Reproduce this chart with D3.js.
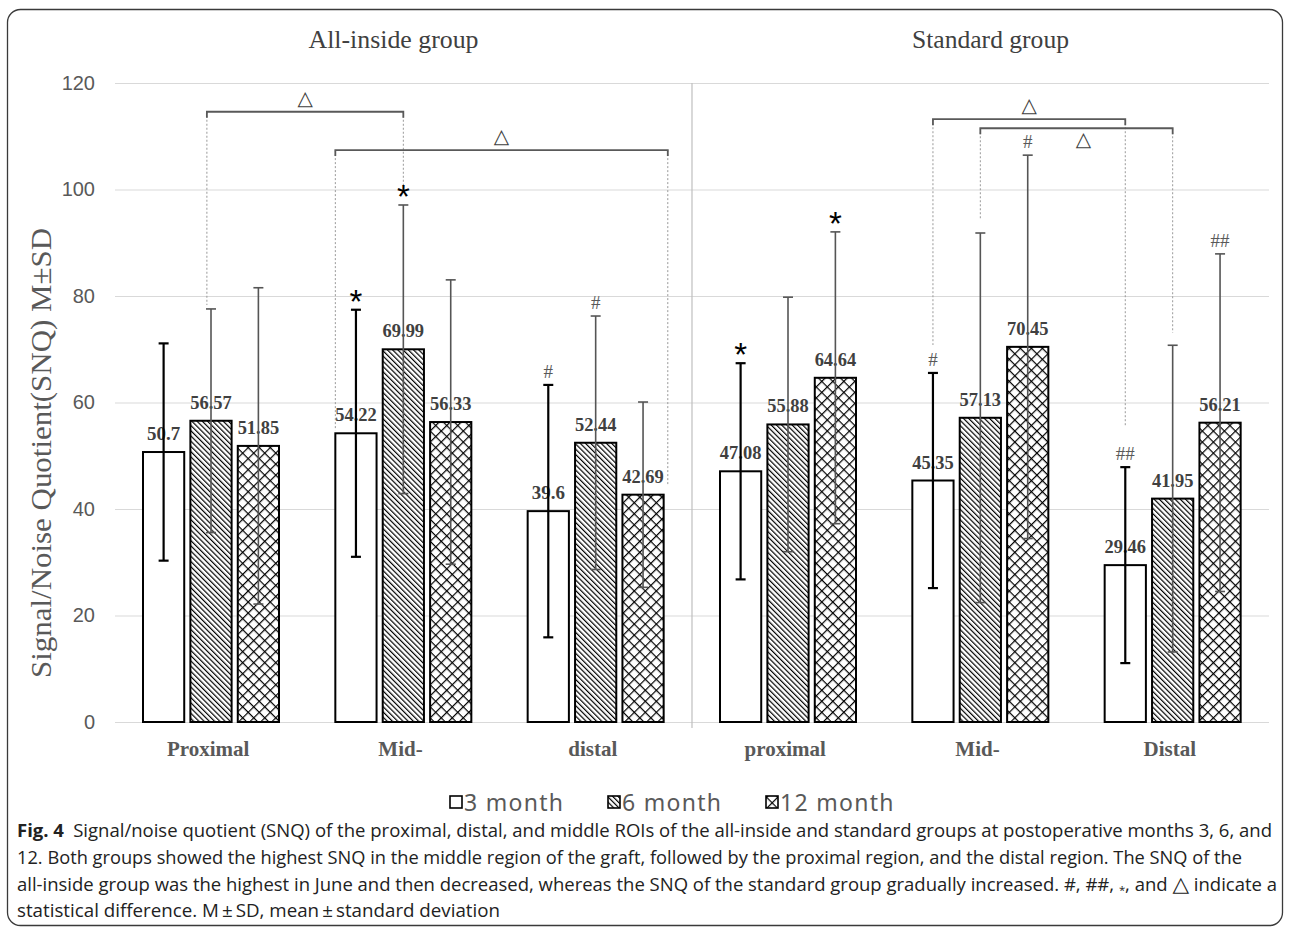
<!DOCTYPE html>
<html>
<head>
<meta charset="utf-8">
<title>SNQ by region and group</title>
<style>
  body { margin: 0; background: #fff; }
</style>
</head>
<body>
<script src="https://cdn.jsdelivr.net/npm/d3@7"></script>
<script>
// ---- data ----
var groupTitles = ["All-inside group", "Standard group"];
var categoryLabels = ["Proximal", "Mid-", "distal", "proximal", "Mid-", "Distal"];
var months = ["3 month", "6 month", "12 month"];

var means3  = [50.7, 54.22, 39.6, 47.08, 45.35, 29.46];
var means6  = [56.57, 69.99, 52.44, 55.88, 57.13, 41.95];
var means12 = [51.85, 56.33, 42.69, 64.64, 70.45, 56.21];

var sd3  = [20.4, 23.2, 23.7, 20.3, 20.2, 18.4];
var sd6  = [21.0, 27.1, 23.8, 23.9, 34.7, 28.8];
var sd12 = [29.7, 26.7, 17.4, 27.4, 36.0, 31.7];

var marks3  = ["", "*", "#", "*", "#", "##"];
var marks6  = ["", "*", "#", "", "", ""];
var marks12 = ["", "", "", "*", "#", "##"];

var yTicks = [0, 20, 40, 60, 80, 100, 120];

// significance brackets: [category, month, offset in bar widths], level and drop ends in data units
var brackets = [
  {from: [0, 1, -0.1], to: [1, 1, 0],   level: 114.6, dropFrom: 78.3, dropTo: 99.9, below: false},
  {from: [1, 0, -0.5], to: [2, 2, 0.6], level: 107.4, dropFrom: 54.8, dropTo: 44.5, below: false},
  {from: [4, 0, 0],    to: [5, 0, 0],   level: 113.2, dropFrom: 70.8, dropTo: 55.4, below: false},
  {from: [4, 1, 0],    to: [5, 1, 0],   level: 111.5, dropFrom: 94.3, dropTo: 73.1, below: true}
];

var captionLines = [
  "Signal/noise quotient (SNQ) of the proximal, distal, and middle ROIs of the all-inside and standard groups at postoperative months 3, 6, and",
  "12. Both groups showed the highest SNQ in the middle region of the graft, followed by the proximal region, and the distal region. The SNQ of the",
  "all-inside group was the highest in June and then decreased, whereas the SNQ of the standard group gradually increased. #, ##, ",
  "statistical difference. M\u2009\u00b1\u2009SD, mean\u2009\u00b1\u2009standard deviation"
];

// ---- build rows ----
var means = [means3, means6, means12];
var sds = [sd3, sd6, sd12];
var marks = [marks3, marks6, marks12];
var rows = [];
categoryLabels.forEach(function(c, i) {
  months.forEach(function(m, j) {
    rows.push({cat: i, month: m, mi: j, mean: means[j][i], sd: sds[j][i], mark: marks[j][i]});
  });
});

var W = 1290, H = 934;
var serif = "'Liberation Serif', 'Times New Roman', serif";
var sans = "'Liberation Sans', Arial, sans-serif";

var svg = d3.select("body").append("svg")
  .attr("width", W).attr("height", H);

var defs = svg.append("defs");

// diagonal hatch for 6 month
var p6 = defs.append("pattern")
  .attr("id", "hatch6")
  .attr("patternUnits", "userSpaceOnUse")
  .attr("width", 3.7).attr("height", 3.7)
  .attr("patternTransform", "rotate(-45)");
p6.append("rect").attr("width", 3.7).attr("height", 3.7).attr("fill", "#fff");
p6.append("line").attr("x1", 0.6).attr("y1", 0).attr("x2", 0.6).attr("y2", 3.7)
  .attr("stroke", "#000").attr("stroke-width", 1.2);

// diamond cross-hatch for 12 month
var p12 = defs.append("pattern")
  .attr("id", "hatch12")
  .attr("patternUnits", "userSpaceOnUse")
  .attr("width", 7.8).attr("height", 7.8)
  .attr("patternTransform", "rotate(45)");
p12.append("rect").attr("width", 7.8).attr("height", 7.8).attr("fill", "#fff");
p12.append("line").attr("x1", 0.6).attr("y1", 0).attr("x2", 0.6).attr("y2", 7.8)
  .attr("stroke", "#000").attr("stroke-width", 1.2);
p12.append("line").attr("x1", 0).attr("y1", 0.6).attr("x2", 7.8).attr("y2", 0.6)
  .attr("stroke", "#000").attr("stroke-width", 1.2);

var fills = {"3 month": "#fff", "6 month": "url(#hatch6)", "12 month": "url(#hatch12)"};

// frame
svg.append("rect")
  .attr("x", 7.5).attr("y", 9.5).attr("width", 1275).attr("height", 916)
  .attr("rx", 13).attr("fill", "none")
  .attr("stroke", "#3a3a3a").attr("stroke-width", 1.3);

// ---- scales ----
var x0 = d3.scaleBand().domain(d3.range(categoryLabels.length)).range([115, 1269]);
var x1 = d3.scaleBand().domain(months).range([28, 164]).paddingInner(0.13);
var y = d3.scaleLinear().domain([0, 120]).range([722, 83]);

function barCenter(cat, mi, off) {
  return x0(cat) + x1(months[mi]) + x1.bandwidth() / 2 + (off || 0) * x1.bandwidth();
}

// gridlines + y axis
var yAxis = svg.append("g")
  .attr("transform", "translate(115,0)")
  .call(d3.axisLeft(y).tickValues(yTicks).tickSize(-(1269 - 115)).tickPadding(20));
yAxis.select(".domain").remove();
yAxis.selectAll(".tick line").attr("stroke", "#d9d9d9").attr("stroke-width", 1.2);
yAxis.selectAll(".tick text")
  .attr("font-family", sans).attr("font-size", 20).attr("fill", "#595959");

// panel separator
svg.append("line")
  .attr("x1", x0(3)).attr("x2", x0(3))
  .attr("y1", y(120)).attr("y2", y(0) + 6)
  .attr("stroke", "#bfbfbf").attr("stroke-width", 1.2);

// y axis title
svg.append("text")
  .attr("transform", "translate(51,453) rotate(-90)")
  .attr("text-anchor", "middle")
  .attr("font-family", serif).attr("font-size", 29).attr("fill", "#595959")
  .attr("textLength", 450).attr("lengthAdjust", "spacingAndGlyphs")
  .text("Signal/Noise Quotient(SNQ) M\u00b1SD");

// group titles
var titleWidth = [170, 157];
groupTitles.forEach(function(t, g) {
  var left = x0(g * 3), right = x0(g * 3 + 2) + x0.bandwidth();
  svg.append("text")
    .attr("x", (left + right) / 2 + (g === 0 ? -10 : 10)).attr("y", 48)
    .attr("text-anchor", "middle")
    .attr("font-family", serif).attr("font-size", 25).attr("fill", "#404040")
    .attr("textLength", titleWidth[g]).attr("lengthAdjust", "spacingAndGlyphs")
    .text(t);
});

// category labels
svg.append("g").selectAll("text")
  .data(categoryLabels)
  .join("text")
  .attr("x", function(d, i) { return x0(i) + x0.bandwidth() / 2 - 3; })
  .attr("y", 756)
  .attr("text-anchor", "middle")
  .attr("font-family", serif).attr("font-weight", "bold").attr("font-size", 21)
  .attr("fill", "#595959")
  .text(function(d) { return d; });

// brackets + dashed drop lines
var br = svg.append("g");
brackets.forEach(function(b) {
  var xa = barCenter(b.from[0], b.from[1], b.from[2]);
  var xb = barCenter(b.to[0], b.to[1], b.to[2]);
  var yl = y(b.level);
  br.append("line").attr("x1", xa).attr("x2", xa).attr("y1", yl).attr("y2", y(b.dropFrom))
    .attr("stroke", "#999").attr("stroke-width", 1).attr("stroke-dasharray", "2,2");
  br.append("line").attr("x1", xb).attr("x2", xb).attr("y1", yl).attr("y2", y(b.dropTo))
    .attr("stroke", "#999").attr("stroke-width", 1).attr("stroke-dasharray", "2,2");
  br.append("path")
    .attr("d", "M" + xa + "," + (yl + 6) + "V" + yl + "H" + xb + "V" + (yl + 6))
    .attr("fill", "none").attr("stroke", "#595959").attr("stroke-width", 1.8);
  br.append("text")
    .attr("x", (xa + xb) / 2 + (b.below ? 7 : 0))
    .attr("y", b.below ? yl + 18 : yl - 7)
    .attr("text-anchor", "middle")
    .attr("font-family", "'DejaVu Sans', sans-serif").attr("font-size", 20)
    .attr("fill", "#404040")
    .text("\u25b3");
});

// bars
svg.append("g").selectAll("rect")
  .data(rows)
  .join("rect")
  .attr("x", function(d) { return x0(d.cat) + x1(d.month); })
  .attr("y", function(d) { return y(d.mean); })
  .attr("width", x1.bandwidth())
  .attr("height", function(d) { return y(0) - y(d.mean); })
  .attr("fill", function(d) { return fills[d.month]; })
  .attr("stroke", "#000").attr("stroke-width", 2);

// value labels (condensed bold serif)
svg.append("g").selectAll("text")
  .data(rows)
  .join("text")
  .attr("x", function(d) { return barCenter(d.cat, d.mi); })
  .attr("y", function(d) { return y(d.mean) - 12; })
  .attr("text-anchor", "middle")
  .attr("font-family", serif).attr("font-weight", "bold").attr("font-size", 19)
  .attr("fill", "#404040")
  .attr("textLength", function(d) { return String(d.mean).length * 8.3; })
  .attr("lengthAdjust", "spacingAndGlyphs")
  .text(function(d) { return d.mean; });

// error bars
var eb = svg.append("g").selectAll("g")
  .data(rows)
  .join("g")
  .attr("stroke", function(d) { return d.mi === 0 ? "#000" : "#555"; })
  .attr("stroke-width", function(d) { return d.mi === 0 ? 2.2 : 1.6; });
eb.append("line")
  .attr("x1", function(d) { return barCenter(d.cat, d.mi); })
  .attr("x2", function(d) { return barCenter(d.cat, d.mi); })
  .attr("y1", function(d) { return y(d.mean - d.sd); })
  .attr("y2", function(d) { return y(d.mean + d.sd); });
[-1, 1].forEach(function(s) {
  eb.append("line")
    .attr("x1", function(d) { return barCenter(d.cat, d.mi) - 5; })
    .attr("x2", function(d) { return barCenter(d.cat, d.mi) + 5; })
    .attr("y1", function(d) { return y(d.mean + s * d.sd); })
    .attr("y2", function(d) { return y(d.mean + s * d.sd); });
});

// significance marks above error bars
var mk = svg.append("g").selectAll("text")
  .data(rows.filter(function(d) { return d.mark; }))
  .join("text")
  .attr("text-anchor", "middle")
  .attr("x", function(d) { return barCenter(d.cat, d.mi); })
  .text(function(d) { return d.mark; });
mk.filter(function(d) { return d.mark === "*"; })
  .attr("y", function(d) { return y(d.mean + d.sd) + 3; })
  .attr("font-family", sans).attr("font-size", 33).attr("fill", "#000");
mk.filter(function(d) { return d.mark !== "*"; })
  .attr("y", function(d) { return y(d.mean + d.sd) - 7; })
  .attr("font-family", serif).attr("font-size", 18).attr("fill", "#595959")
  .attr("textLength", function(d) { return d.mark.length * 9.5; })
  .attr("lengthAdjust", "spacingAndGlyphs");

// legend
var legend = svg.append("g").attr("transform", "translate(0,802)");
var lx = [449, 607, 765];
months.forEach(function(m, j) {
  legend.append("rect")
    .attr("x", lx[j] + 1).attr("y", -6).attr("width", 12).attr("height", 12)
    .attr("fill", fills[m]).attr("stroke", "#000").attr("stroke-width", 1.6);
  legend.append("text")
    .attr("x", lx[j] + 15).attr("y", 8.5)
    .attr("font-family", "'Noto Sans', sans-serif").attr("font-size", 23)
    .attr("letter-spacing", 1.3)
    .attr("fill", "#595959")
    .text(m);
});

// caption
var cap = svg.append("g").attr("font-family", "'Open Sans', sans-serif")
  .attr("font-size", 18).attr("fill", "#222");
var capY = [837, 864, 891, 917];
var capEnd = [1272, 1242, 1277, 500];
captionLines.forEach(function(line, i) {
  var t = cap.append("text").attr("x", 17).attr("y", capY[i]);
  if (i === 0) {
    t.append("tspan").attr("font-weight", "bold").text("Fig. 4");
    t.append("tspan").text("\u2002" + line);
  } else if (i === 2) {
    t.append("tspan").text(line);
    t.append("tspan").attr("font-size", 11).attr("dy", 3).text("*");
    t.append("tspan").attr("dy", -3).text(", and ");
    t.append("tspan").attr("font-family", "'DejaVu Sans', sans-serif").attr("font-size", 21).text("\u25b3");
    t.append("tspan").text(" indicate a");
  } else {
    t.text(line);
  }
  t.attr("textLength", capEnd[i] - 17).attr("lengthAdjust", "spacingAndGlyphs");
});
</script>
</body>
</html>
